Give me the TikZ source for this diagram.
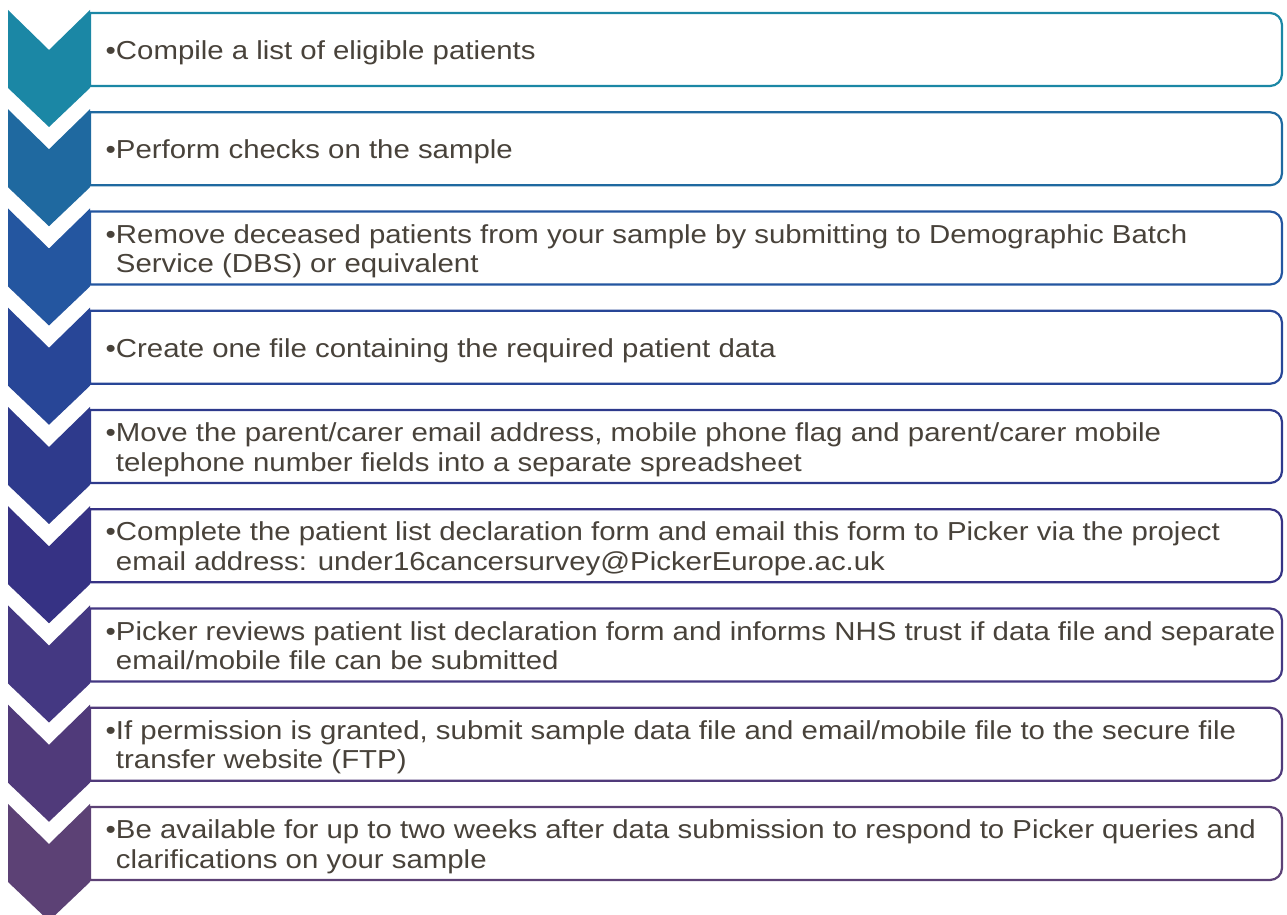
\documentclass[tikz,border=0pt]{standalone}
\usepackage{fontspec}
\setmainfont{Liberation Sans}[FakeStretch=1.13]
\definecolor{c1}{HTML}{1B87A5}
\definecolor{c2}{HTML}{1F69A0}
\definecolor{c3}{HTML}{2456A0}
\definecolor{c4}{HTML}{284697}
\definecolor{c5}{HTML}{2E3A8C}
\definecolor{c6}{HTML}{363284}
\definecolor{c7}{HTML}{443882}
\definecolor{c8}{HTML}{503A7A}
\definecolor{c9}{HTML}{5C4175}
\definecolor{txt}{HTML}{48423A}
\tikzset{
  chev/.style={fill=#1},
  stepbox/.style={draw=#1, line width=2.2pt, line join=round},
  steptext/.style={anchor=base west, inner sep=0pt, text=txt,
    font=\fontsize{26}{29.5}\selectfont}
}
\newcommand\steprow[4]{%
  \pgfmathsetmacro\ct{915-10-99.25*(#1-1)}%
  \pgfmathsetmacro\bt{915-13-99.25*(#1-1)}%
  \pgfmathsetmacro\bb{\bt-73}%
  \pgfmathsetmacro\bl{(\bt+\bb)/2-9.8+14.75*(#3-1)}%
  \fill[chev=#2] (8,\ct) -- (49,\ct-40) -- (90,\ct) -- (90,\ct-78)
     -- (49,\ct-117) -- (8,\ct-78) -- cycle;
  \draw[stepbox=#2] (90,\bt) -- (1270,\bt)
     arc[start angle=90, end angle=0, radius=12] -- (1282,\bb+12)
     arc[start angle=0, end angle=-90, radius=12] -- (90,\bb) -- cycle;
  \node[steptext] (t#1) at (105.5,\bl)
     {•\begin{tabular}[t]{@{}l@{}}#4\end{tabular}};
}
\begin{document}
\begin{tikzpicture}[x=1pt,y=1pt]
\useasboundingbox (0,0) rectangle (1287,915);
\clip (0,0) rectangle (1287,915);
\steprow{1}{c1}{1}{Compile a list of eligible patients}
\steprow{2}{c2}{1}{Perform checks on the sample}
\steprow{3}{c3}{2}{Remove deceased patients from your sample by submitting to Demographic Batch\\Service (DBS) or equivalent}
\steprow{4}{c4}{1}{Create one file containing the required patient data}
\steprow{5}{c5}{2}{Move the parent/carer email address, mobile phone flag and parent/carer mobile\\telephone number fields into a separate spreadsheet}
\steprow{6}{c6}{2}{Complete the patient list declaration form and email this form to Picker via the project\\email address: under16cancersurvey@PickerEurope.ac.uk}
\steprow{7}{c7}{2}{Picker reviews patient list declaration form and informs NHS trust if data file and separate\\email/mobile file can be submitted}
\steprow{8}{c8}{2}{If permission is granted, submit sample data file and email/mobile file to the secure file\\transfer website (FTP)}
\steprow{9}{c9}{2}{Be available for up to two weeks after data submission to respond to Picker queries and\\clarifications on your sample}
\end{tikzpicture}
\end{document}
